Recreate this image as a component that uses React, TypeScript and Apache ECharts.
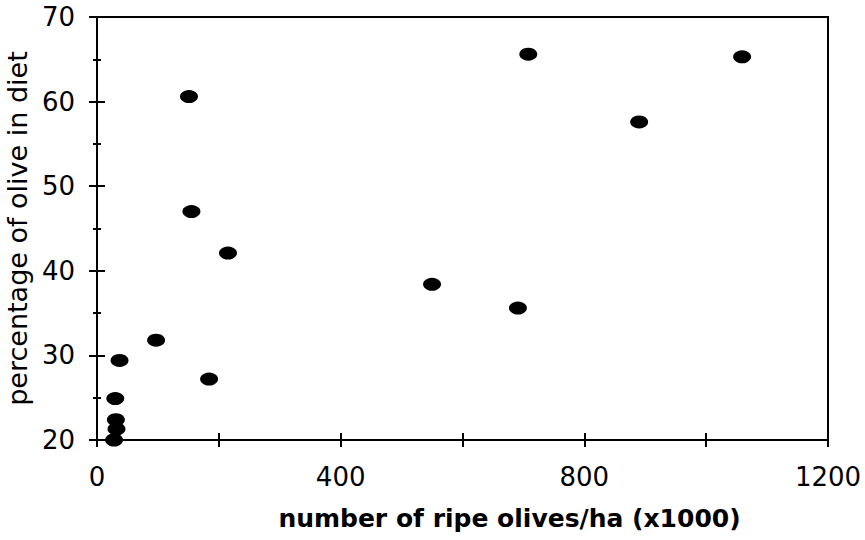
import React, { useEffect, useRef } from "react";
import * as echarts from "echarts";

const olivesX = [151, 155, 215, 97, 37, 184, 30, 31, 32, 28, 550, 691, 708, 890, 1059];
const dietPct = [60.6, 47.0, 42.1, 31.8, 29.4, 27.2, 24.9, 22.4, 21.3, 20.0, 38.4, 35.6, 65.6, 57.6, 65.3];
const xTitle = "number of ripe olives/ha (x1000)";
const yTitle = "percentage of olive in diet";

export default function App() {
  const ref = useRef<HTMLDivElement>(null);
  useEffect(() => {
    const chart = echarts.init(ref.current!, null, { renderer: "svg" });
    const font = "'DejaVu Sans', Arial, sans-serif";
    const data = olivesX.map((x, i) => [x, dietPct[i]]);
    const lineStyle = { color: "#000", width: 2 };
    chart.setOption({
      animation: false,
      backgroundColor: "#fff",
      grid: {
        left: 97, right: 37, top: 17, bottom: 100,
        containLabel: false, outerBoundsMode: "none",
        show: true, borderColor: "#000", borderWidth: 2, backgroundColor: "transparent",
      },
      xAxis: [
        {
          type: "value", min: 0, max: 1200, interval: 200,
          axisLine: { show: true, lineStyle },
          axisTick: { show: true, inside: false, length: 7, lineStyle },
          splitLine: { show: false },
          axisLabel: {
            margin: 24, color: "#000", fontSize: 26, fontFamily: font,
            formatter: (v: number) => (v % 400 === 0 ? String(v) : ""),
          },
          name: xTitle, nameLocation: "middle", nameGap: 66,
          nameTextStyle: { color: "#000", fontSize: 25, fontWeight: "bold", fontFamily: font, padding: [0, 0, 0, 94] },
        },
        {
          type: "value", min: 0, max: 1200, interval: 200, position: "bottom",
          axisLine: { show: false },
          axisTick: { show: true, inside: true, length: 7, lineStyle },
          splitLine: { show: false }, axisLabel: { show: false },
        },
      ],
      yAxis: [
        {
          type: "value", min: 20, max: 70, interval: 10,
          axisLine: { show: true, lineStyle },
          axisTick: { show: true, inside: false, length: 8, lineStyle },
          minorTick: { show: true, splitNumber: 2, length: 4, lineStyle },
          splitLine: { show: false }, minorSplitLine: { show: false },
          axisLabel: { margin: 22, color: "#000", fontSize: 26, fontFamily: font },
          name: yTitle, nameLocation: "middle", nameGap: 62, nameRotate: 90,
          nameTextStyle: { color: "#000", fontSize: 27, fontFamily: font },
        },
        {
          type: "value", min: 20, max: 70, interval: 10, position: "left",
          axisLine: { show: false },
          axisTick: { show: true, inside: true, length: 8, lineStyle },
          minorTick: { show: true, splitNumber: 2, length: 4, lineStyle },
          splitLine: { show: false }, minorSplitLine: { show: false },
          axisLabel: { show: false },
        },
      ],
      series: [
        {
          type: "scatter",
          xAxisIndex: 0, yAxisIndex: 0,
          data,
          symbol: "circle",
          symbolSize: [18, 13],
          itemStyle: { color: "#000", opacity: 1 },
        },
      ],
    });
    return () => chart.dispose();
  }, []);
  return <div ref={ref} style={{ width: 865, height: 540, position: "absolute", left: 0, top: 0 }} />;
}
